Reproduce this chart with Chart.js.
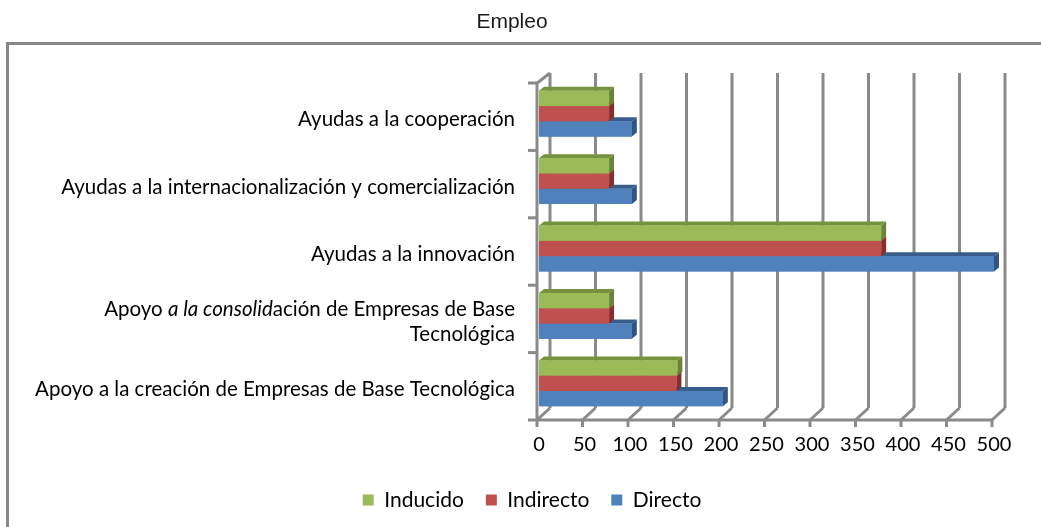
<!DOCTYPE html>
<html>
<head>
<meta charset="utf-8">
<title>Empleo</title>
<script src="https://cdn.jsdelivr.net/npm/chart.js@4.4.1/dist/chart.umd.min.js"></script>
<style>
  html, body { margin: 0; padding: 0; background: #fff; }
  #contenedor { position: relative; width: 1041px; height: 527px; }
</style>
</head>
<body>
<div id="contenedor"><canvas id="empleoChart"></canvas></div>
<script>
// datos
const categorias = [
  "Ayudas a la cooperación",
  "Ayudas a la internacionalización y comercialización",
  "Ayudas a la innovación",
  ["Apoyo a la consolidación de Empresas de Base", "Tecnológica"],
  "Apoyo a la creación de Empresas de Base Tecnológica"
];
const inducido = [77, 77, 376, 77, 152];
const indirecto = [77, 77, 376, 77, 151];
const directo = [102, 102, 500, 102, 202];
const ticksX = [0, 50, 100, 150, 200, 250, 300, 350, 400, 450, 500];
const titulo = 'Empleo';

const colores = ['#9bbb59', '#c0504d', '#4f81bd'];
const carasTop = ['#76923c', '#943634', '#385d8a'];
const carasLado = ['#6a8435', '#86302e', '#325480'];
const gris = '#8a8a8a';
const fuente = 'Lato, "Open Sans", sans-serif';
const cursiva = 'a la consolid';

const canvas = document.getElementById("empleoChart");

function linea(ctx, x1, y1, x2, y2) {
  ctx.beginPath();
  ctx.moveTo(x1, y1);
  ctx.lineTo(x2, y2);
  ctx.stroke();
}

// marco del grafico y titulo
const marco = {
  id: 'marco',
  beforeDraw(chart) {
    const ctx = chart.ctx;
    ctx.save();
    ctx.strokeStyle = '#878787';
    ctx.lineWidth = 3;
    ctx.strokeRect(7.5, 43.5, 1200, 700);
    ctx.fillStyle = '#1a1a1a';
    ctx.font = '21px "Liberation Sans", Arial, sans-serif';
    ctx.textAlign = 'center';
    ctx.textBaseline = 'middle';
    ctx.fillText(titulo, 512, 22);
    ctx.restore();
  }
};

// paredes 3d, ejes y rejilla
const paredes = {
  id: 'paredes',
  beforeDatasetsDraw(chart) {
    const ctx = chart.ctx;
    const xs = chart.scales.x, ys = chart.scales.y;
    const ax = chart.chartArea.left - 2;
    const top = ys.getPixelForValue(-0.5) + 3;
    const bottom = ys.getPixelForValue(categorias.length - 0.5) + 3;
    ctx.save();
    ctx.strokeStyle = gris;
    ctx.lineWidth = 3;
    ctx.lineCap = 'butt';
    ticksX.forEach(v => {
      const px = xs.getPixelForValue(v) - 2;
      linea(ctx, px + 13, top - 10, px + 13, bottom - 12);
      linea(ctx, px, bottom, px + 13, bottom - 12);
      linea(ctx, px, bottom - 1, px, bottom + 7);
    });
    linea(ctx, ax - 9, bottom, xs.getPixelForValue(500) - 2, bottom);
    linea(ctx, ax, top, ax, bottom);
    linea(ctx, ax - 1, top + 1, ax + 13, top - 10);
    for (let i = 0; i < categorias.length; i++) {
      const yy = ys.getPixelForValue(i - 0.5) + 3;
      linea(ctx, ax - 9, yy, ax, yy);
    }
    ctx.restore();
  }
};

// caras laterales y superiores de las barras
const barras3d = {
  id: 'barras3d',
  afterDatasetsDraw(chart) {
    const ctx = chart.ctx;
    const dx = 5, dy = 4;
    ctx.save();
    for (let d = chart.data.datasets.length - 1; d >= 0; d--) {
      const meta = chart.getDatasetMeta(d);
      meta.data.forEach(bar => {
        const p = bar.getProps(['x', 'y', 'base', 'height'], true);
        const t = p.y - p.height / 2, b = p.y + p.height / 2;
        ctx.fillStyle = carasTop[d];
        ctx.beginPath();
        ctx.moveTo(p.base, t);
        ctx.lineTo(p.base + dx, t - dy);
        ctx.lineTo(p.x + dx, t - dy);
        ctx.lineTo(p.x, t);
        ctx.closePath();
        ctx.fill();
        ctx.fillStyle = carasLado[d];
        ctx.beginPath();
        ctx.moveTo(p.x, t);
        ctx.lineTo(p.x + dx, t - dy);
        ctx.lineTo(p.x + dx, b - dy);
        ctx.lineTo(p.x, b);
        ctx.closePath();
        ctx.fill();
        ctx.fillStyle = colores[d];
        ctx.fillRect(p.base, t, p.x - p.base, p.height);
      });
    }
    ctx.restore();
  }
};

// etiquetas de categorias (con el tramo en cursiva)
const etiquetas = {
  id: 'etiquetas',
  afterDraw(chart) {
    const ctx = chart.ctx;
    const ys = chart.scales.y;
    const derecha = 515;
    const normal = '20.5px ' + fuente;
    const ital = 'italic 20.5px ' + fuente;
    ctx.save();
    ctx.fillStyle = '#000';
    ctx.textBaseline = 'middle';
    categorias.forEach((cat, i) => {
      const lineas = Array.isArray(cat) ? cat : [cat];
      const cy = ys.getPixelForValue(i) + 6;
      lineas.forEach((txt, j) => {
        const yy = cy + (j - (lineas.length - 1) / 2) * 25;
        const k = txt.indexOf(cursiva);
        let trozos = [[txt, normal]];
        if (k >= 0) {
          trozos = [[txt.slice(0, k), normal], [cursiva, ital], [txt.slice(k + cursiva.length), normal]];
        }
        let ancho = 0;
        trozos.forEach(tz => { ctx.font = tz[1]; ancho += ctx.measureText(tz[0]).width; });
        let x = derecha - ancho;
        ctx.textAlign = 'left';
        trozos.forEach(tz => {
          ctx.font = tz[1];
          ctx.fillText(tz[0], x, yy);
          x += ctx.measureText(tz[0]).width;
        });
      });
    });
    ctx.restore();
  }
};

new Chart(canvas, {
  type: 'bar',
  data: {
    labels: categorias,
    datasets: [
      { label: 'Inducido', data: inducido, backgroundColor: colores[0], borderWidth: 0 },
      { label: 'Indirecto', data: indirecto, backgroundColor: colores[1], borderWidth: 0 },
      { label: 'Directo', data: directo, backgroundColor: colores[2], borderWidth: 0 }
    ]
  },
  options: {
    indexAxis: 'y',
    responsive: true,
    maintainAspectRatio: false,
    animation: false,
    barPercentage: 1,
    categoryPercentage: 0.68,
    layout: { padding: { left: 70, right: 47, top: 80, bottom: 6.5 } },
    scales: {
      x: {
        min: 0,
        max: 500,
        afterBuildTicks: s => { s.ticks = ticksX.map(v => ({ value: v })); },
        afterFit: s => { s.height = 50.5; },
        grid: { display: false, drawTicks: false },
        border: { display: false },
        ticks: { padding: 16, color: '#000', font: { family: fuente, size: 20 } }
      },
      y: {
        afterFit: s => { s.width = 469; },
        grid: { display: false, drawTicks: false },
        border: { display: false },
        ticks: { display: false }
      }
    },
    plugins: {
      title: { display: false },
      legend: {
        position: 'bottom',
        labels: {
          boxWidth: 11,
          boxHeight: 11,
          padding: 22,
          color: '#000',
          font: { family: fuente, size: 21 }
        }
      },
      tooltip: { enabled: false }
    }
  },
  plugins: [marco, paredes, barras3d, etiquetas]
});
</script>
</body>
</html>
